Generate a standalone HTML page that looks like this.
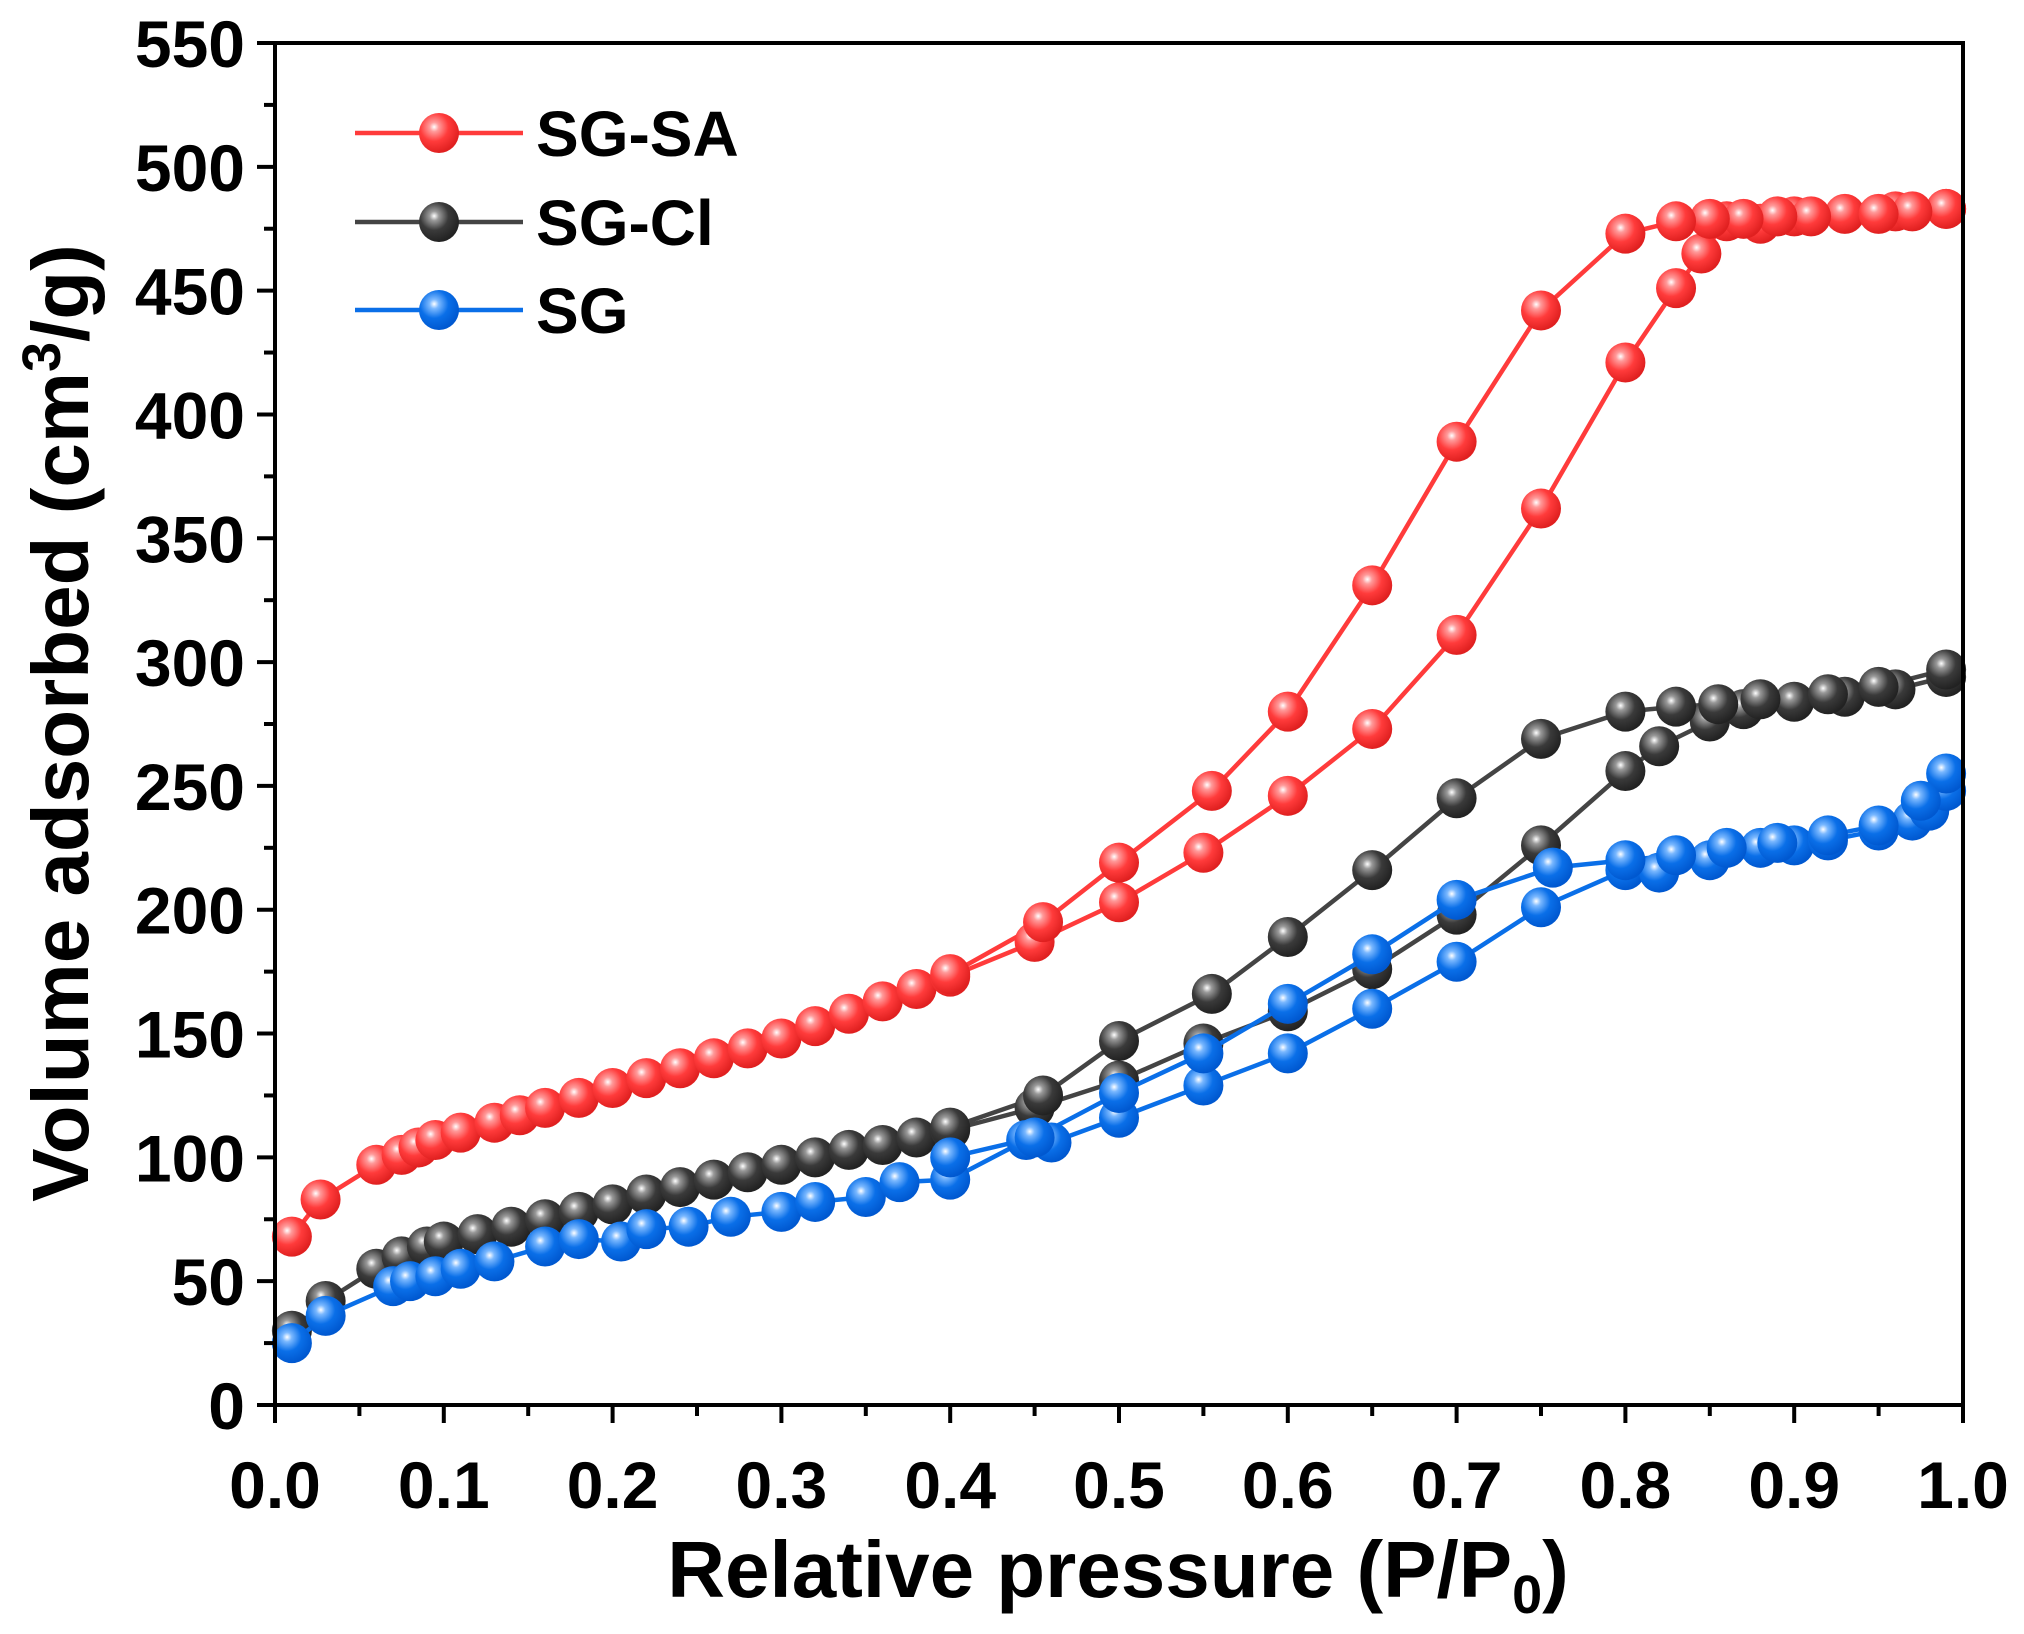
<!DOCTYPE html>
<html><head><meta charset="utf-8"><style>
html,body{margin:0;padding:0;background:#fff;}
svg{display:block;font-family:"Liberation Sans",Arial,sans-serif;font-weight:bold;}
</style></head><body>
<svg id="chart" width="2024" height="1634" viewBox="0 0 2024 1634" xmlns="http://www.w3.org/2000/svg">
<defs>
<radialGradient id="gr" cx="0.38" cy="0.35" r="0.65"><stop offset="0" stop-color="#fff"/><stop offset="0.18" stop-color="#ff9a9a"/><stop offset="0.55" stop-color="#ff3b3b"/><stop offset="1" stop-color="#e02020"/></radialGradient>
<radialGradient id="gk" cx="0.38" cy="0.35" r="0.65"><stop offset="0" stop-color="#fff"/><stop offset="0.18" stop-color="#999"/><stop offset="0.55" stop-color="#3a3a3a"/><stop offset="1" stop-color="#222"/></radialGradient>
<radialGradient id="gb" cx="0.38" cy="0.35" r="0.65"><stop offset="0" stop-color="#fff"/><stop offset="0.18" stop-color="#7ab8ff"/><stop offset="0.55" stop-color="#0a6fe8"/><stop offset="1" stop-color="#0058d0"/></radialGradient>
</defs>
<g id="plot"></g>
<g id="axes"></g>
</svg>
<script>
const xTicks=[0,0.1,0.2,0.3,0.4,0.5,0.6,0.7,0.8,0.9,1.0];
const yTicks=[0,50,100,150,200,250,300,350,400,450,500,550];
const saAdsX=[0.01,0.027,0.06,0.075,0.085,0.095,0.11,0.13,0.145,0.16,0.18,0.2,0.22,0.24,0.26,0.28,0.3,0.32,0.34,0.36,0.38,0.4,0.45,0.5,0.55,0.6,0.65,0.7,0.75,0.8,0.83,0.845,0.86,0.88,0.9,0.93,0.96,0.99];
const saAdsY=[68,83,97,101,104,107,110,114,117,120,124,128,132,136,140,144,148,153,158,163,168,173,187,203,223,246,273,311,362,421,451,465,478,477,480,481,482,483];
const saDesX=[0.99,0.97,0.95,0.91,0.89,0.87,0.85,0.83,0.8,0.75,0.7,0.65,0.6,0.555,0.5,0.455,0.4];
const saDesY=[483,482,481,480,480,479,479,478,473,442,389,331,280,248,219,195,174];
const clAdsX=[0.01,0.03,0.06,0.075,0.09,0.1,0.12,0.14,0.16,0.18,0.2,0.22,0.24,0.26,0.28,0.3,0.32,0.34,0.36,0.38,0.4,0.45,0.5,0.55,0.6,0.65,0.7,0.75,0.8,0.82,0.85,0.87,0.9,0.93,0.96,0.99];
const clAdsY=[30,42,55,60,64,66,69,72,75,78,81,85,88,91,94,97,100,103,105,108,111,120,131,146,159,176,198,226,256,266,276,281,284,286,289,294];
const clDesX=[0.99,0.95,0.92,0.88,0.855,0.83,0.8,0.75,0.7,0.65,0.6,0.555,0.5,0.455,0.4];
const clDesY=[297,290,287,285,283,282,280,269,245,216,189,166,147,125,112];
const sgAdsX=[0.01,0.03,0.07,0.08,0.095,0.11,0.13,0.16,0.18,0.205,0.22,0.245,0.27,0.3,0.32,0.35,0.37,0.4,0.445,0.46,0.5,0.55,0.6,0.65,0.7,0.75,0.8,0.82,0.85,0.88,0.9,0.92,0.95,0.97,0.98,0.99];
const sgAdsY=[25,36,48,50,52,55,58,64,67,66,71,72,76,78,82,84,90,91,107,106,116,129,142,160,179,201,216,215,220,225,226,228,232,236,240,248];
const sgDesX=[0.99,0.975,0.95,0.92,0.89,0.86,0.83,0.8,0.757,0.7,0.65,0.6,0.55,0.5,0.45,0.4];
const sgDesY=[255,244,234,230,227,225,222,220,217,204,182,162,142,126,108,100];
const seriesNames=["SG-SA","SG-Cl","SG"];

const X0=275,X1=1963,Y0=1405,Y1=43;
const sx=v=>X0+(X1-X0)*v/1.0;
const sy=v=>Y0-(Y0-Y1)*v/550;
const NS="http://www.w3.org/2000/svg";
function mk(tag,attrs,parent){const e=document.createElementNS(NS,tag);for(const k in attrs)e.setAttribute(k,attrs[k]);parent.appendChild(e);return e;}
const plot=document.getElementById('plot'),axes=document.getElementById('axes');
const series=[
 {name:'sg-sa',color:'#ff3b3b',grad:'url(#gr)',br:[[saAdsX,saAdsY],[saDesX,saDesY]]},
 {name:'sg-cl',color:'#444',grad:'url(#gk)',br:[[clAdsX,clAdsY],[clDesX,clDesY]]},
 {name:'sg',color:'#0a6fe8',grad:'url(#gb)',br:[[sgAdsX,sgAdsY],[sgDesX,sgDesY]]}
];
series.forEach(s=>{
 const g=mk('g',{},plot);
 
 
 s.br.forEach((b,bi)=>{
  const pts=b[0].map((x,i)=>sx(x)+','+sy(b[1][i])).join(' ');
  const pl=mk('polyline',{points:pts,fill:'none',stroke:s.color,'stroke-width':4.5},g);
  
  
 });
 s.br.forEach((b,bi)=>{
  b[0].forEach((x,i)=>{
   const c=mk('circle',{cx:sx(x),cy:sy(b[1][i]),r:20,fill:s.grad},g);
   
   
  });
 });
});
const fr=mk('rect',{x:X0,y:Y1,width:X1-X0,height:Y0-Y1,fill:'none',stroke:'#000','stroke-width':4},axes);


xTicks.forEach((t,i)=>{
 const x=sx(t);
 const l=mk('line',{x1:x,y1:Y0,x2:x,y2:Y0+18,stroke:'#000','stroke-width':4},axes);
 
 
 if(i<xTicks.length-1){const xm=sx(t+0.05);const m=mk('line',{x1:xm,y1:Y0,x2:xm,y2:Y0+11,stroke:'#000','stroke-width':4},axes);
  
  }
 const tx=mk('text',{x:x,y:Y0+103,'text-anchor':'middle','font-size':66},axes);
 tx.textContent=t.toFixed(1);
 
 
});
yTicks.forEach((t,i)=>{
 const y=sy(t);
 const l=mk('line',{x1:X0-18,y1:y,x2:X0,y2:y,stroke:'#000','stroke-width':4},axes);
 
 
 if(i<yTicks.length-1){const ym=sy(t+25);const m=mk('line',{x1:X0-11,y1:ym,x2:X0,y2:ym,stroke:'#000','stroke-width':4},axes);
  
  }
 const tx=mk('text',{x:X0-30,y:y+24,'text-anchor':'end','font-size':66},axes);
 tx.textContent=t;
 
 
});
const lg=mk('g',{},axes);


const legendY=[133,222,310];
series.forEach((s,i)=>{
 const e=mk('g',{},lg);
 
 
 mk('line',{x1:355,y1:legendY[i],x2:523,y2:legendY[i],stroke:s.color,'stroke-width':4.5},e);
 mk('circle',{cx:439,cy:legendY[i],r:20,fill:s.grad},e);
 const t=mk('text',{x:536,y:legendY[i]+23,'font-size':64},e);
 t.textContent=seriesNames[i];
});
</script>
<svg style="position:absolute;left:0;top:0" width="2024" height="1634" xmlns="http://www.w3.org/2000/svg" font-family="Liberation Sans, Arial, sans-serif" font-weight="bold">
<text x="1118" y="1597" text-anchor="middle" font-size="80">Relative pressure (P/P<tspan font-size="54" dy="16">0</tspan><tspan dy="-16">)</tspan></text>
<text transform="translate(88,723) rotate(-90)" text-anchor="middle" font-size="80">Volume adsorbed (cm<tspan font-size="54" dy="-28">3</tspan><tspan dy="28">/g)</tspan></text>
</svg>
</body></html>
